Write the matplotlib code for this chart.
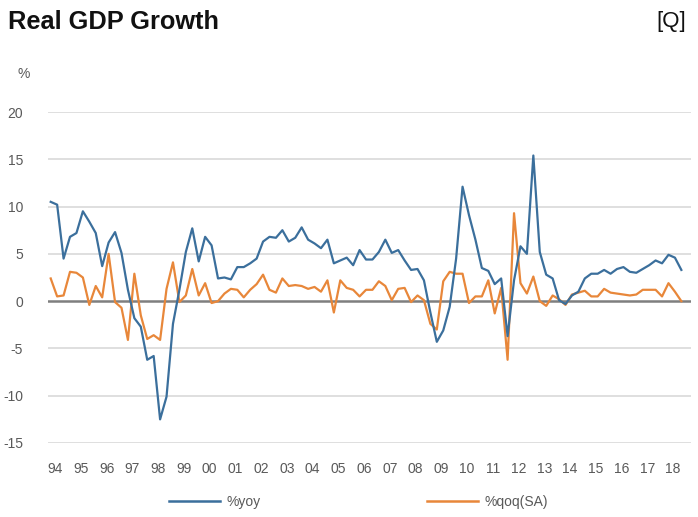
import numpy as np
import matplotlib
matplotlib.use("Agg")
import matplotlib.pyplot as plt
from matplotlib.lines import Line2D

plt.rcParams['font.family'] = ['Liberation Sans', 'DejaVu Sans']
plt.rcParams['axes.unicode_minus'] = False

# quarterly, 1994Q1 .. 2018Q3
yoy = [10.5, 10.2, 4.5, 6.8, 7.2, 9.5, 8.4, 7.2, 3.7, 6.2, 7.3, 5.1,
       1.2, -1.8, -2.7, -6.2, -5.8, -12.5, -10.1, -2.4, 1.2, 5.2, 7.7, 4.2,
       6.8, 5.9, 2.4, 2.5, 2.3, 3.6, 3.6, 4.0, 4.5, 6.3, 6.8, 6.7,
       7.5, 6.3, 6.7, 7.8, 6.5, 6.1, 5.6, 6.5, 4.0, 4.3, 4.6, 3.8,
       5.4, 4.4, 4.4, 5.2, 6.5, 5.1, 5.4, 4.3, 3.3, 3.4, 2.2, -1.2,
       -4.3, -3.1, -0.6, 4.5, 12.1, 9.1, 6.5, 3.5, 3.2, 1.8, 2.4, -3.7,
       2.2, 5.8, 5.0, 15.4, 5.2, 2.8, 2.4, 0.1, -0.3, 0.6, 1.0, 2.4,
       2.9, 2.9, 3.3, 2.9, 3.4, 3.6, 3.1, 3.0, 3.4, 3.8, 4.3, 4.0,
       4.9, 4.6, 3.3]
qoq = [2.4, 0.5, 0.6, 3.1, 3.0, 2.5, -0.4, 1.6, 0.4, 5.0, -0.1, -0.7,
       -4.1, 2.9, -1.5, -4.0, -3.6, -4.1, 1.3, 4.1, -0.1, 0.6, 3.4, 0.6,
       1.9, -0.2, 0.0, 0.8, 1.3, 1.2, 0.4, 1.2, 1.8, 2.8, 1.2, 0.9,
       2.4, 1.6, 1.7, 1.6, 1.3, 1.5, 1.0, 2.2, -1.2, 2.2, 1.4, 1.2,
       0.5, 1.2, 1.2, 2.1, 1.6, 0.1, 1.3, 1.4, -0.1, 0.6, 0.1, -2.4,
       -3.0, 2.1, 3.1, 2.9, 2.9, -0.2, 0.5, 0.5, 2.2, -1.3, 1.4, -6.2,
       9.3, 1.9, 0.8, 2.6, 0.0, -0.5, 0.6, 0.2, -0.4, 0.7, 0.9, 1.1,
       0.5, 0.5, 1.3, 0.9, 0.8, 0.7, 0.6, 0.7, 1.2, 1.2, 1.2, 0.5,
       1.9, 1.0, 0.0]
years = ['94', '95', '96', '97', '98', '99', '00', '01', '02', '03', '04', '05',
         '06', '07', '08', '09', '10', '11', '12', '13', '14', '15', '16', '17', '18']
yticks = [-15, -10, -5, 0, 5, 10, 15, 20]

blue = '#3b6f9c'
orange = '#e8873a'
grey = '#595959'

fig = plt.figure(figsize=(6.98, 5.17), dpi=100)
ax = fig.add_axes([48/698, 1-443/517, 643/698, 331/517])

x = np.arange(len(yoy))
for v in yticks:
    if v != 0:
        ax.axhline(v, color='#d9d9d9', lw=1.2, zorder=0)
ax.axhline(0, color='#7f7f7f', lw=1.8, zorder=1)
ax.plot(x, yoy, color=blue, lw=1.6, zorder=3)
ax.plot(x, qoq, color=orange, lw=1.6, zorder=2)

ax.set_xlim(-0.42, 99.5)
ax.set_ylim(-15, 20)
ax.set_yticks(yticks)
ax.set_xticks(np.arange(len(years)) * 4 + 0.7)
ax.set_xticklabels(years)
for s in ax.spines.values():
    s.set_visible(False)
ax.tick_params(axis='y', length=0, pad=18, labelsize=10, labelcolor=grey)
ax.tick_params(axis='x', length=0, pad=14, labelsize=10, labelcolor=grey)
for lab in ax.get_yticklabels():
    lab.set_horizontalalignment('right')

fig.text(8/698, 1-22/517, 'Real GDP Growth', fontsize=18.3, fontweight='bold',
         va='center', ha='left', color='#111111')
fig.text(686/698, 1-22/517, '[Q]', fontsize=16, va='center', ha='right', color='#111111')
fig.text(24/698, 1-74/517, '%', fontsize=10, va='center', ha='center', color=grey)

handles = [Line2D([], [], color=blue, lw=1.8), Line2D([], [], color=orange, lw=1.8)]
leg = fig.legend(handles, ['%yoy', '%qoq(SA)'], loc='center left',
                 bbox_to_anchor=(156/698, 1-502/517), ncol=2, frameon=False,
                 handlelength=3.7, handletextpad=0.45, columnspacing=12.0,
                 fontsize=10)
for t in leg.get_texts():
    t.set_color(grey)

fig.savefig('out.png', dpi=100)
